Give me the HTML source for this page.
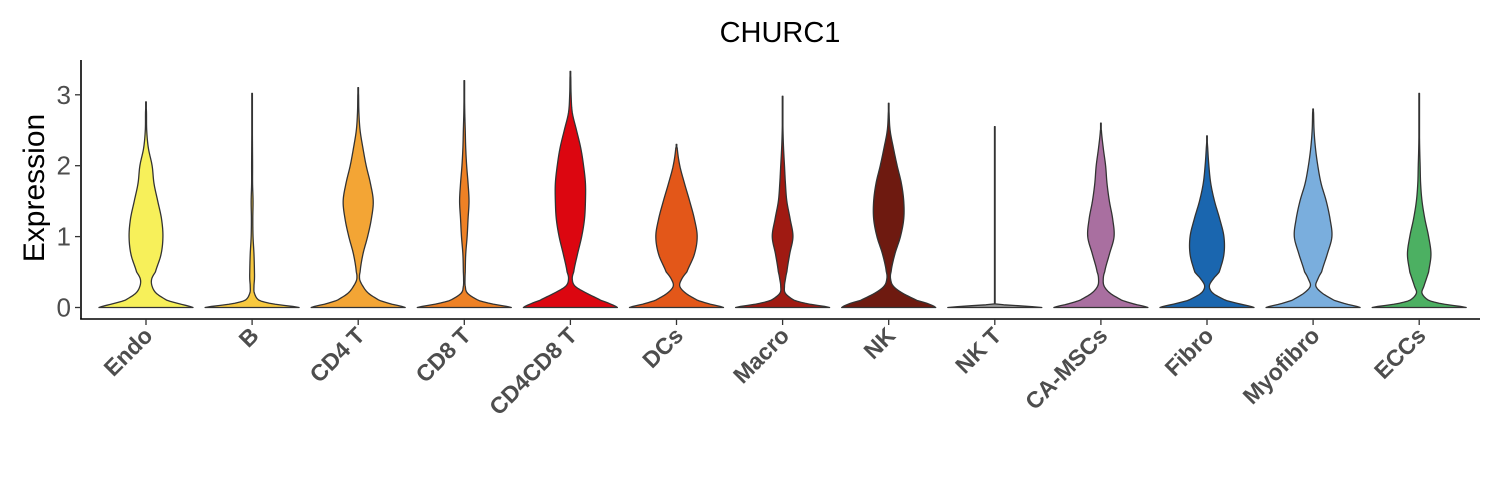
<!DOCTYPE html>
<html><head><meta charset="utf-8"><style>
html,body{margin:0;padding:0;background:#fff;}
svg{display:block;font-family:"Liberation Sans",Arial,sans-serif;}
</style></head><body>
<svg id="chart" width="1500" height="500">
<text x="780" y="42" text-anchor="middle" font-size="29" fill="#000">CHURC1</text>
<text transform="translate(44,188) rotate(-90)" text-anchor="middle" font-size="30" fill="#000">Expression</text>
<g id="violins"></g>
<g id="axes"></g>
</svg>
<script>
const categories = ["Endo","B","CD4 T","CD8 T","CD4CD8 T","DCs","Macro","NK","NK T","CA-MSCs","Fibro","Myofibro","ECCs"];
const colors = ["#F7F05A","#F8C93F","#F3A535","#EE8125","#DC0610","#E35719","#A01A12","#6E1A10","#999999","#A96FA0","#1A66AF","#7AAEDD","#4CB062"];
const maxValues = [2.9,3.02,3.1,3.2,3.33,2.3,2.98,2.88,2.55,2.6,2.42,2.8,3.02];
const levels = [0,0.05,0.1,0.2,0.3,0.4,0.5,0.75,1,1.25,1.5,1.75,2,2.25,2.5,2.75,3,3.25];
const densEndo = [1,.72,.45,.22,.13,.12,.2,.32,.36,.33,.25,.17,.13,.05,.015,.01];
const densB = [1,.45,.15,.05,.04,.05,.05,.04,.02,.015,.02,.01,.01,.008,.006,.005,.005];
const densCD4T = [1,.7,.45,.22,.1,.03,.04,.1,.2,.28,.32,.26,.17,.1,.04,.015,.008];
const densCD8T = [1,.6,.3,.07,.02,.015,.02,.03,.06,.08,.1,.08,.05,.03,.02,.01,.005];
const densCD4CD8T = [1,.85,.65,.35,.1,.04,.07,.15,.24,.3,.32,.32,.28,.22,.13,.04,.015,.008];
const densDCs = [1,.7,.45,.2,.07,.11,.22,.38,.44,.38,.28,.17,.07,.015];
const densMacro = [1,.55,.25,.06,.04,.06,.09,.15,.22,.16,.09,.06,.04,.02,.008,.004];
const densNK = [1,.85,.6,.3,.1,.04,.05,.13,.25,.32,.32,.27,.18,.1,.03,.008];
const densNKT = [1,.004,.003,.003,.003,.003,.003,.003,.003,.003,.003,.003,.003,.003,.003];
const densCAMSC = [1,.7,.45,.2,.07,.05,.08,.18,.28,.25,.18,.13,.1,.05,.01];
const densFibro = [1,.7,.4,.13,.05,.13,.26,.36,.36,.27,.16,.08,.04,.015];
const densMyofibro = [1,.7,.45,.2,.06,.1,.18,.3,.4,.36,.28,.17,.1,.05,.02,.01];
const densECCs = [1,.5,.2,.06,.1,.15,.2,.25,.2,.12,.06,.03,.02,.01,.005,.005,.003];
const densities = [densEndo,densB,densCD4T,densCD8T,densCD4CD8T,densDCs,densMacro,densNK,densNKT,densCAMSC,densFibro,densMyofibro,densECCs];
const yTicks = [0,1,2,3];

const NS="http://www.w3.org/2000/svg";
const plotL=81, plotR=1480, plotB=319;
const y0=307.5, pxPerUnit=70.9;
function yScale(v){return y0 - v*pxPerUnit;}
function xScale(i){return 146 + i*106.1;}
const halfMax=47;
function mk(t,a){const e=document.createElementNS(NS,t);for(const k in a)e.setAttribute(k,a[k]);return e;}

function densityAt(d,maxV,v){
  const pts=[];
  for(let i=0;i<d.length&&levels[i]<maxV;i++)pts.push([levels[i],d[i]]);
  pts.push([maxV,0]);
  let k=0;while(k<pts.length-2&&v>pts[k+1][0])k++;
  const p0=pts[Math.max(0,k-1)],p1=pts[k],p2=pts[k+1],p3=pts[Math.min(pts.length-1,k+2)];
  const t=(v-p1[0])/(p2[0]-p1[0]);
  const m1=(p2[1]-p0[1])/2,m2=(p3[1]-p1[1])/2;
  const t2=t*t,t3=t2*t;
  let r=(2*t3-3*t2+1)*p1[1]+(t3-2*t2+t)*m1+(-2*t3+3*t2)*p2[1]+(t3-t2)*m2;
  const lo=Math.min(p1[1],p2[1]),hi=Math.max(p1[1],p2[1]);
  return Math.max(lo*0.9,Math.min(hi*1.05,r));
}

const gV=document.getElementById('violins');
categories.forEach((c,i)=>{
  const d=densities[i],maxV=maxValues[i],cx=xScale(i);
  const N=200,right=[],left=[];
  for(let s=0;s<=N;s++){
    const v=maxV*s/N;
    const w=Math.max(0.3,densityAt(d,maxV,v)*halfMax);
    right.push((cx+w).toFixed(2)+","+yScale(v).toFixed(2));
    left.unshift((cx-w).toFixed(2)+","+yScale(v).toFixed(2));
  }
  const p=mk('path',{d:"M"+right.join("L")+"L"+left.join("L")+"Z",fill:colors[i],stroke:"#333",'stroke-width':1.3,'stroke-linejoin':'round'});
  
  
  gV.appendChild(p);
});

const gA=document.getElementById('axes');
const ya=mk('line',{x1:plotL,y1:60,x2:plotL,y2:plotB+0.5,stroke:'#000','stroke-width':1.6});


gA.appendChild(ya);
const xa=mk('line',{x1:plotL-0.8,y1:plotB,x2:plotR,y2:plotB,stroke:'#000','stroke-width':1.6});


gA.appendChild(xa);
yTicks.forEach(v=>{
  const y=yScale(v);
  const t=mk('line',{x1:plotL-6,y1:y,x2:plotL,y2:y,stroke:'#333','stroke-width':1.3});
  
  
  gA.appendChild(t);
  const l=mk('text',{x:plotL-10,y:y+9,'text-anchor':'end','font-size':26,fill:'#4d4d4d'});
  l.textContent=v;
  
  
  gA.appendChild(l);
});
categories.forEach((c,i)=>{
  const x=xScale(i);
  const t=mk('line',{x1:x,y1:plotB,x2:x,y2:plotB+6,stroke:'#333','stroke-width':1.3});
  
  
  gA.appendChild(t);
  const l=mk('text',{transform:`translate(${x+8},${plotB+18}) rotate(-45)`,'text-anchor':'end','font-size':23,'font-weight':'bold',fill:'#4d4d4d'});
  l.textContent=c;
  
  
  gA.appendChild(l);
});
</script>
</body></html>
